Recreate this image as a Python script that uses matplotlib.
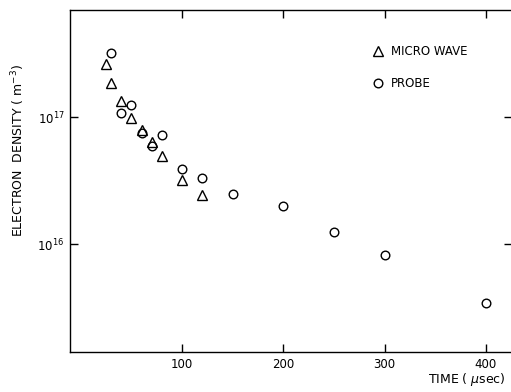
import matplotlib

matplotlib.use("Agg")
import matplotlib.pyplot as plt
from matplotlib.ticker import FixedLocator, NullLocator

plt.rcParams["font.family"] = "DejaVu Sans"

# microwave interferometer
mw_time = [25, 30, 40, 50, 60, 70, 80, 100, 120]
mw_density = [2.61e17, 1.84e17, 1.34e17, 9.8e16, 7.9e16, 6.4e16, 4.96e16, 3.19e16, 2.43e16]

# Langmuir probe
probe_time = [30, 40, 50, 60, 70, 80, 100, 120, 150, 200, 250, 300, 400]
probe_density = [3.17e17, 1.08e17, 1.24e17, 7.48e16, 5.9e16, 7.2e16, 3.87e16,
                 3.29e16, 2.46e16, 1.98e16, 1.25e16, 8.2e15, 3.43e15]

x_ticks = [100, 200, 300, 400]
y_ticks = [1e16, 1e17]
y_labels = [r"$10^{16}$", r"$10^{17}$"]

fig = plt.figure(figsize=(5.11, 3.92), dpi=100)
ax = fig.add_axes([70 / 511, 40 / 392, 442 / 511, 342 / 392])

ax.plot(mw_time, mw_density, linestyle="none", marker="^", markersize=7,
        markerfacecolor="white", markeredgecolor="black", markeredgewidth=1.0,
        label="MICRO WAVE")
ax.plot(probe_time, probe_density, linestyle="none", marker="o", markersize=6.2,
        markerfacecolor="none", markeredgecolor="black", markeredgewidth=1.0,
        label="PROBE")

ax.set_yscale("log")
ax.set_xlim(-10.6, 425.8)
ax.set_ylim(10 ** 15.15, 10 ** 17.843)

ax.xaxis.set_major_locator(FixedLocator(x_ticks))
ax.xaxis.set_minor_locator(NullLocator())
ax.set_yticks(y_ticks, y_labels)
ax.yaxis.set_minor_locator(NullLocator())
ax.tick_params(axis="both", direction="in", length=6, width=1.0, top=True, right=True,
               labelsize=8.5, pad=4)
for spine in ax.spines.values():
    spine.set_linewidth(1.0)

fig.text(18 / 511, 1 - 151 / 392, r"ELECTRON  DENSITY ( m$^{-3}$)", rotation=90,
         ha="center", va="center", fontsize=9)
fig.text(0.99, 0.01, r"TIME ( $\mu$sec)", ha="right", va="bottom", fontsize=9)

ax.legend(loc="upper left", bbox_to_anchor=(0.67, 0.915), frameon=False, fontsize=8.5,
          handletextpad=0.6, labelspacing=1.6, handlelength=1.0, borderpad=0)

fig.savefig("out.png", dpi=100)
plt.close(fig)
